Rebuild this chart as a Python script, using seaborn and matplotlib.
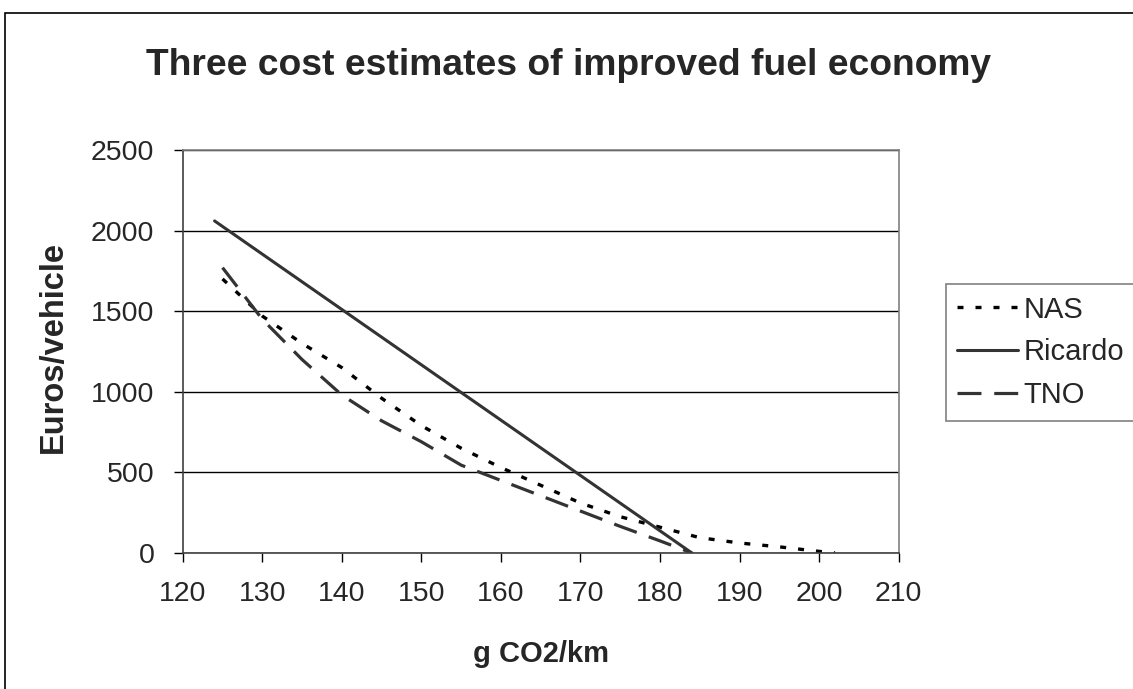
import matplotlib.pyplot as plt
import matplotlib.patches as mpatches
import pandas as pd
import seaborn as sns

# values
nas_x = [125, 130, 135, 140, 145, 150, 155, 160, 165, 170, 175, 180, 185, 190, 195, 200, 202]
nas_y = [1700, 1470, 1300, 1150, 960, 790, 650, 530, 420, 310, 225, 160, 95, 62, 38, 10, 0]

ricardo_x = [124, 184]
ricardo_y = [2060, 0]

tno_x = [125, 130, 135, 140, 145, 150, 155, 160, 165, 170, 175, 180, 184]
tno_y = [1770, 1450, 1200, 980, 820, 690, 545, 450, 355, 260, 165, 75, 0]

x_ticks = [120, 130, 140, 150, 160, 170, 180, 190, 200, 210]
y_ticks = [0, 500, 1000, 1500, 2000, 2500]

sns.set_style("white")
plt.rcParams["font.family"] = ["Liberation Sans", "DejaVu Sans"]

fig = plt.figure(figsize=(11.33, 6.89), dpi=100)
ax = fig.add_axes([0.1613, 0.1974, 0.6319, 0.5849])

nas = pd.DataFrame({"x": nas_x, "y": nas_y})
ric = pd.DataFrame({"x": ricardo_x, "y": ricardo_y})
tno = pd.DataFrame({"x": tno_x, "y": tno_y})

sns.lineplot(data=nas, x="x", y="y", ax=ax, color="black", linewidth=2.4,
             label="NAS")
ax.lines[-1].set_dashes((1.8, 3.6))
sns.lineplot(data=ric, x="x", y="y", ax=ax, color="#333333", linewidth=2.2,
             label="Ricardo")
sns.lineplot(data=tno, x="x", y="y", ax=ax, color="#333333", linewidth=2.3,
             label="TNO")
ax.lines[-1].set_dashes((7.5, 4.0))

ax.set_xlim(120, 210)
ax.set_ylim(0, 2500)
ax.set_xticks(x_ticks)
ax.set_yticks(y_ticks)
ax.tick_params(axis="both", labelsize=20.5, direction="out", length=6.5, width=1,
               color="black", bottom=True, left=True, pad=14)
ax.grid(axis="y", color="black", linewidth=1)
ax.grid(axis="x", visible=False)
for name, sp in ax.spines.items():
    sp.set_color("#404040" if name in ("left", "bottom") else "#808080")
    sp.set_linewidth(1.2)

ax.set_xlabel("g CO2/km", fontsize=21, fontweight="bold")
ax.xaxis.label.set_va("baseline")
ax.xaxis.set_label_coords(0.5, -0.2705)
ax.set_ylabel("Euros/vehicle", fontsize=23.5, fontweight="bold")
ax.yaxis.label.set_va("baseline")
ax.yaxis.set_label_coords(-0.169, 0.51)

fig.text(0.502, 0.8911, "Three cost estimates of improved fuel economy",
         ha="center", va="baseline", fontsize=26.8, fontweight="bold")

leg = ax.legend(loc="upper left", bbox_to_anchor=(0.8347, 0.5878),
                bbox_transform=fig.transFigure, fontsize=21, frameon=True,
                fancybox=False, borderpad=0.4, handlelength=2.07,
                handletextpad=0.2, labelspacing=0.5, borderaxespad=0)
leg.get_frame().set_edgecolor("#606060")
leg.get_frame().set_linewidth(1.2)

# outer chart border (top and left edges visible)
fig.patches.append(mpatches.Rectangle((5 / 1133, -0.05), 1.2, 1 - 13 / 689 + 0.05,
                                      transform=fig.transFigure, fill=False,
                                      edgecolor="black", linewidth=1.2))

fig.savefig("out.png", dpi=100)
